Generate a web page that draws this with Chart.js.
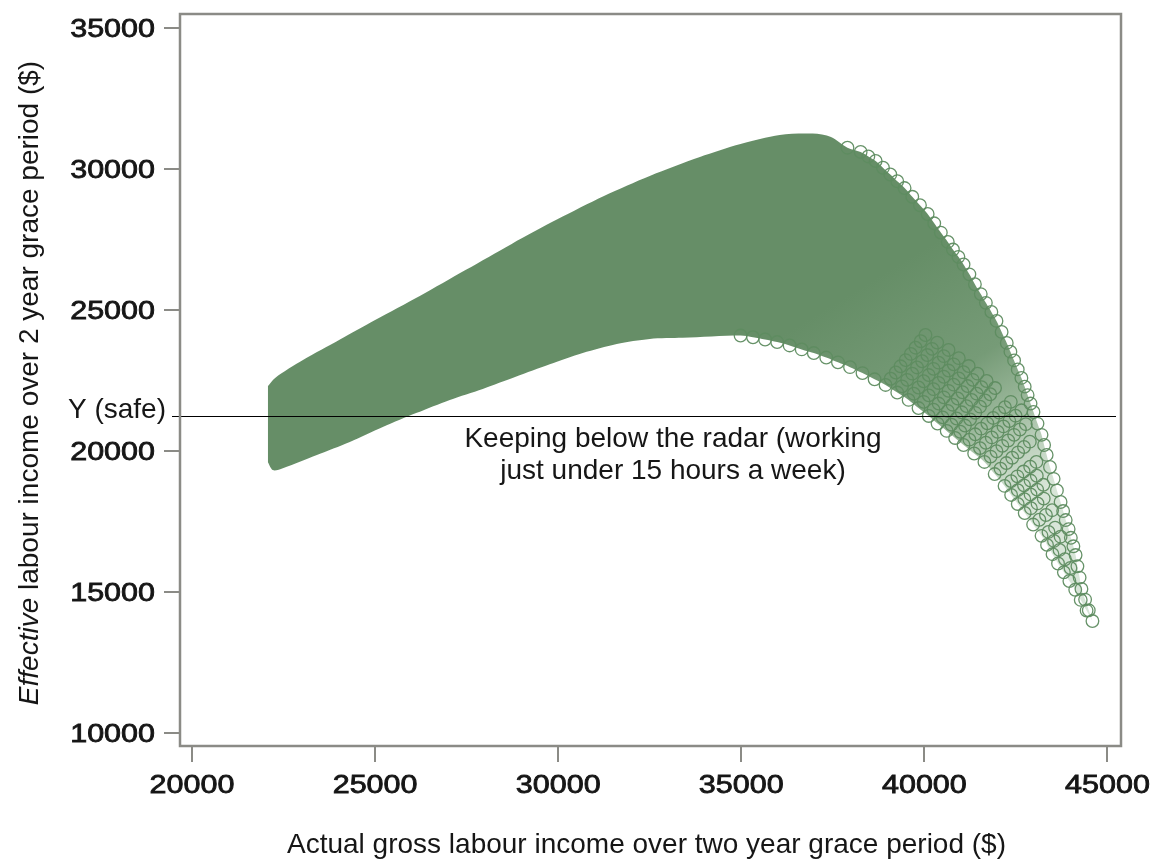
<!DOCTYPE html>
<html>
<head>
<meta charset="utf-8">
<title>Effective vs actual labour income</title>
<script src="https://cdn.jsdelivr.net/npm/chart.js@4.4.1/dist/chart.umd.min.js"></script>
<style>
  html, body { margin: 0; padding: 0; background: #ffffff; }
  #wrap { position: relative; width: 1154px; height: 859px; }
</style>
</head>
<body>
<div id="wrap"><canvas id="chart"></canvas></div>
<script>
// Axis ticks
const xTicks = [20000, 25000, 30000, 35000, 40000, 45000];
const yTicks = [10000, 15000, 20000, 25000, 30000, 35000];

// Threshold income drawn as the horizontal reference line
const ySafe = 21250;

// Upper edge of the band of simulated outcomes (left corner up to the peak)
const topX = [22070, 22270, 23030, 24040, 25000, 26220, 27480, 28730, 29990, 31250, 32500, 33870, 34980, 36050, 36950, 37450];
const topY = [22300, 22600, 23230, 23960, 24650, 25500, 26430, 27350, 28230, 29050, 29760, 30430, 30890, 31210, 31260, 31140];

// Last point of each hours profile, from the lowest-earning tip up to the peak
const endX = [44590, 44490, 44390, 44290, 44240, 44180, 44130, 44070, 44000, 43940, 43860, 43790, 43720, 43620, 43530, 43430, 43340, 43270, 43200, 43090, 42980, 42900, 42820, 42740, 42650, 42550, 42450, 42350, 42250, 42110, 41970, 41830, 41680, 41540, 41380, 41230, 41070, 40930, 40780, 40640, 40450, 40270, 40090, 39880, 39670, 39460, 39260, 39070, 38870, 38670, 38470, 38260, 37900];
const endY = [13980, 14360, 14740, 15120, 15520, 15920, 16320, 16630, 16930, 17240, 17560, 17880, 18200, 18610, 19020, 19440, 19870, 20220, 20580, 20980, 21390, 21690, 21990, 22290, 22600, 22900, 23220, 23530, 23840, 24230, 24620, 24940, 25260, 25570, 25920, 26270, 26620, 26890, 27150, 27420, 27750, 28080, 28410, 28720, 29020, 29330, 29570, 29810, 30050, 30290, 30450, 30610, 30760];

// Lower edge of the band (left corner to the trough of the lowest profile)
const lowX = [22070, 22210, 22480, 23410, 24310, 25210, 26140, 27040, 27940, 28840, 29770, 30670, 31600, 32500, 33400];
const lowY = [19620, 19330, 19400, 19870, 20330, 20860, 21360, 21820, 22210, 22640, 23080, 23480, 23800, 23980, 24020];

// Lowest profile from its peak down to the tip
const bottomX = [34980, 35320, 35650, 35980, 36320, 36650, 36980, 37320, 37640, 37970, 38310, 38640, 38940, 39260, 39570, 39840, 40120, 40360, 40610, 40840, 41070, 41360, 41640, 41920, 42190, 42370, 42550, 42740, 42970, 43200, 43350, 43500, 43650, 43810, 43960, 44120, 44270, 44430];
const bottomY = [24100, 24040, 23960, 23870, 23750, 23610, 23480, 23320, 23150, 22980, 22770, 22550, 22350, 22080, 21820, 21530, 21250, 20980, 20720, 20470, 20220, 19920, 19620, 19190, 18770, 18450, 18130, 17810, 17400, 17000, 16680, 16350, 16020, 15710, 15400, 15090, 14730, 14350];

// Next profiles up, over the stretch where they separate into distinct circles
const row1X = [39080, 39390, 39710, 39980, 40250, 40500, 40740, 40980, 41230, 41520, 41810, 42080, 42370, 42550, 42730, 42910, 43140, 43390, 43540, 43690, 43840, 43990];
const row1Y = [22570, 22300, 22040, 21750, 21470, 21200, 20940, 20690, 20410, 20110, 19810, 19380, 18940, 18620, 18300, 17980, 17570, 17140, 16820, 16500, 16170, 15860];
const row2X = [39220, 39530, 39840, 40120, 40390, 40640, 40880, 41110, 41390, 41680, 41970, 42240, 42540, 42720, 42900, 43090, 43320, 43570, 43720];
const row2Y = [22790, 22530, 22260, 21980, 21690, 21430, 21160, 20910, 20600, 20300, 20000, 19580, 19110, 18790, 18470, 18150, 17740, 17290, 16970];
const row3X = [39350, 39670, 39980, 40250, 40530, 40770, 41020, 41250, 41550, 41840, 42130, 42400, 42710, 42900, 43080, 43260, 43490];
const row3Y = [23010, 22750, 22480, 22200, 21910, 21650, 21380, 21130, 20800, 20490, 20190, 19770, 19280, 18960, 18640, 18320, 17910];
const row4X = [39490, 39800, 40120, 40390, 40660, 40910, 41150, 41390, 41720, 42000, 42290, 42560, 42890, 43070, 43250];
const row4Y = [23230, 22970, 22700, 22420, 22140, 21870, 21600, 21360, 20990, 20690, 20380, 19960, 19450, 19130, 18810];
const row5X = [39630, 39940, 40250, 40530, 40800, 41040, 41290, 41520, 41880, 42160, 42450, 42720, 43060];
const row5Y = [23450, 23190, 22920, 22640, 22360, 22090, 21820, 21580, 21180, 20880, 20580, 20150, 19620];
const row6X = [39760, 40080, 40390, 40660, 40940, 41180, 41430, 41660, 42040, 42320, 42610, 42880];
const row6Y = [23670, 23410, 23140, 22860, 22580, 22310, 22040, 21800, 21370, 21070, 20770, 20340];
const row7X = [39900, 40210, 40530, 40800, 41070, 41320, 41560, 41800, 42200, 42490, 42770];
const row7Y = [23900, 23630, 23370, 23080, 22800, 22530, 22270, 22020, 21560, 21260, 20960];
const row8X = [40030, 40350, 40660, 40940, 41210, 41450, 41700, 41930, 42360, 42650];
const row8Y = [24120, 23850, 23590, 23300, 23020, 22750, 22490, 22240, 21750, 21450];

const pts = (xs, ys) => xs.map((v, i) => ({ x: v, y: ys[i] }));

// Band outline: upper side runs over the top and down the right edge, lower side along the bottom
const upperLine = pts(topX, topY).concat(pts(endX, endY).reverse());
const lowerLine = pts(lowX, lowY).concat(pts(bottomX, bottomY), [{ x: endX[0], y: endY[0] }]);

const GREEN = '#668e67';
const RING = 'rgba(94,140,96,0.95)';
const INK = '#161616';
const FRAME = '#8b8b86';

function bandFill(context) {
  const chart = context.chart;
  const { ctx, chartArea, scales } = chart;
  if (!chartArea) return GREEN;
  const g = ctx.createLinearGradient(
    scales.x.getPixelForValue(39900), scales.y.getPixelForValue(27100),
    scales.x.getPixelForValue(43700), scales.y.getPixelForValue(19000));
  g.addColorStop(0, 'rgb(102,142,103)');
  g.addColorStop(0.45, 'rgb(118,155,119)');
  g.addColorStop(0.65, 'rgb(150,180,150)');
  g.addColorStop(0.85, 'rgb(192,211,192)');
  g.addColorStop(1, 'rgb(216,229,216)');
  return g;
}

const ringSet = (label, xs, ys) => ({
  label,
  data: pts(xs, ys),
  order: 0,
  showLine: false,
  pointRadius: 6.3,
  pointBorderWidth: 1.3,
  pointBorderColor: RING,
  pointBackgroundColor: 'rgba(0,0,0,0)'
});

// Frame, ticks, labels, titles and annotations
const decor = {
  id: 'decor',
  afterDatasetsDraw(chart) {
    const { ctx, chartArea: a, scales: { x, y } } = chart;
    ctx.save();

    // reference line at the safe income level
    const ys = Math.round(y.getPixelForValue(ySafe)) + 0.5;
    ctx.strokeStyle = '#000';
    ctx.lineWidth = 1;
    ctx.beginPath();
    ctx.moveTo(a.left - 8, ys);
    ctx.lineTo(a.right - 5, ys);
    ctx.stroke();

    // plot frame
    ctx.strokeStyle = FRAME;
    ctx.lineWidth = 2.5;
    ctx.strokeRect(a.left, a.top, a.right - a.left, a.bottom - a.top);

    // tick marks
    ctx.lineWidth = 2;
    ctx.beginPath();
    yTicks.forEach(v => {
      const p = Math.round(y.getPixelForValue(v));
      ctx.moveTo(a.left - 16, p); ctx.lineTo(a.left, p);
    });
    xTicks.forEach(v => {
      const p = Math.round(x.getPixelForValue(v));
      ctx.moveTo(p, a.bottom); ctx.lineTo(p, a.bottom + 16);
    });
    ctx.stroke();

    // tick labels (wide face)
    const stretch = 1.22;
    ctx.fillStyle = INK;
    ctx.strokeStyle = INK;
    ctx.lineWidth = 0.8;
    ctx.font = '25px "Liberation Sans", Arial, sans-serif';
    ctx.textBaseline = 'alphabetic';
    const tickText = (s, px, py, align) => {
      ctx.save();
      ctx.translate(px, py);
      ctx.scale(stretch, 1);
      ctx.textAlign = align;
      ctx.fillText(s, 0, 0);
      ctx.strokeText(s, 0, 0);
      ctx.restore();
    };
    yTicks.forEach(v => tickText(String(v), a.left - 25, y.getPixelForValue(v) + 9, 'right'));
    xTicks.forEach(v => tickText(String(v), x.getPixelForValue(v), a.bottom + 47, 'center'));

    // axis titles
    ctx.font = '28px "Liberation Sans", Arial, sans-serif';
    ctx.textAlign = 'center';
    ctx.fillText('Actual gross labour income over two year grace period ($)', (a.left + a.right) / 2 - 4, 853);

    ctx.save();
    ctx.translate(38, (a.top + a.bottom) / 2 + 3);
    ctx.rotate(-Math.PI / 2);
    const italic = 'italic 28px "Liberation Sans", Arial, sans-serif';
    const roman = '28px "Liberation Sans", Arial, sans-serif';
    const t1 = 'Effective', t2 = ' labour income over 2 year grace period ($)';
    ctx.font = italic; const w1 = ctx.measureText(t1).width;
    ctx.font = roman; const w2 = ctx.measureText(t2).width;
    ctx.textAlign = 'left';
    ctx.font = italic; ctx.fillText(t1, -(w1 + w2) / 2, 0);
    ctx.font = roman; ctx.fillText(t2, -(w1 + w2) / 2 + w1, 0);
    ctx.restore();

    // annotations
    ctx.font = '28px "Liberation Sans", Arial, sans-serif';
    ctx.textAlign = 'right';
    ctx.fillText('Y (safe)', a.left - 14, ys + 1.5);
    ctx.textAlign = 'center';
    ctx.fillText('Keeping below the radar (working', 673, 447);
    ctx.fillText('just under 15 hours a week)', 673, 479);

    ctx.restore();
  }
};

new Chart(document.getElementById('chart'), {
  type: 'scatter',
  data: {
    datasets: [
      {
        label: 'band',
        data: upperLine,
        order: 10,
        showLine: true,
        borderWidth: 0,
        pointRadius: 0,
        tension: 0.3,
        backgroundColor: bandFill,
        fill: { target: 1 }
      },
      {
        label: 'band lower',
        data: lowerLine,
        order: 9,
        showLine: true,
        borderWidth: 0,
        pointRadius: 0,
        tension: 0.3,
        fill: false
      },
      ringSet('profile ends', endX, endY),
      ringSet('lowest profile', bottomX, bottomY),
      ringSet('profile 2', row1X, row1Y),
      ringSet('profile 3', row2X, row2Y),
      ringSet('profile 4', row3X, row3Y),
      ringSet('profile 5', row4X, row4Y),
      ringSet('profile 6', row5X, row5Y),
      ringSet('profile 7', row6X, row6Y),
      ringSet('profile 8', row7X, row7Y),
      ringSet('profile 9', row8X, row8Y)
    ]
  },
  options: {
    responsive: true,
    maintainAspectRatio: false,
    devicePixelRatio: 1,
    animation: false,
    events: [],
    layout: { padding: { left: 180, top: 14, right: 33, bottom: 113 } },
    scales: {
      x: { type: 'linear', min: 19672, max: 45370, display: false },
      y: { type: 'linear', min: 9550, max: 35500, display: false }
    },
    plugins: {
      legend: { display: false },
      tooltip: { enabled: false },
      filler: { drawTime: 'beforeDatasetsDraw' }
    }
  },
  plugins: [decor]
});
</script>
</body>
</html>
